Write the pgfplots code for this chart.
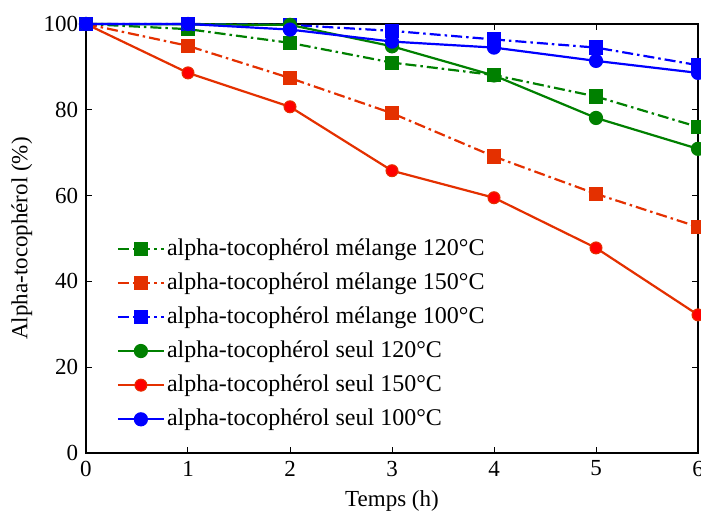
\documentclass[border=0pt]{standalone}
\usepackage{fontspec}
\setmainfont{Liberation Serif}
\usepackage{pgfplots}
\pgfplotsset{compat=1.18}
\definecolor{cgreen}{RGB}{0,128,0}
\definecolor{cred}{RGB}{228,48,0}
\definecolor{cblue}{RGB}{0,0,255}
\begin{document}
\fontsize{23}{27}\selectfont
\begin{tikzpicture}
\begin{axis}[
  scale only axis, width=612pt, height=429pt,
  xmin=0, xmax=6, ymin=0, ymax=100,
  xtick={0,1,2,3,4,5,6}, ytick={0,20,40,60,80,100},
  tick align=inside, major tick length=6pt,
  axis line style={line width=1.2pt}, tick style={line width=1pt, black},
  /pgf/number format/assume math mode=true,
  ticklabel style={font=\fontsize{23}{27}\selectfont},
  label style={font=\fontsize{23}{27}\selectfont},
  xlabel={Temps (h)}, ylabel={Alpha-tocophérol (\%)},
  xlabel style={at={(axis description cs:0.5,-0.112)}, anchor=center},
  ylabel style={at={(axis description cs:-0.105,0.5)}, anchor=center},
  legend style={at={(0.05,0.505)}, anchor=north west, draw=none, fill=none,
    font=\fontsize{24}{28}\selectfont, row sep=10pt, inner sep=0pt,
    /tikz/every even column/.append style={column sep=4pt}},
  legend cell align=left,
  legend image code/.code={\draw[mark repeat=2,mark phase=2] plot coordinates {(0pt,0pt) (23pt,0pt) (46pt,0pt)};},
  every axis plot/.append style={line width=2.2pt},
  dashdot/.style={dash pattern=on 11pt off 4pt on 2.5pt off 4pt},
  clip=false,
]
\addplot[cgreen, dashdot, mark=square*, mark size=6pt, mark options={solid, fill=cgreen}]
  coordinates {(0,100) (1,98.8) (2,95.6) (3,91.0) (4,88.1) (5,83.1) (6,76.0)};
\addlegendentry{alpha-tocophérol mélange 120°C}
\addplot[cred, dashdot, mark=square*, mark size=6pt, mark options={solid, fill=cred}]
  coordinates {(0,100) (1,94.9) (2,87.4) (3,79.2) (4,69.1) (5,60.4) (6,52.7)};
\addlegendentry{alpha-tocophérol mélange 150°C}
\addplot[cblue, dashdot, mark=square*, mark size=6pt, mark options={solid, fill=cblue}]
  coordinates {(0,100) (1,100) (2,99.8) (3,98.4) (4,96.4) (5,94.5) (6,90.4)};
\addlegendentry{alpha-tocophérol mélange 100°C}
\addplot[cgreen, mark=*, mark size=6pt, mark options={solid, fill=cgreen}]
  coordinates {(0,100) (1,99.9) (2,99.8) (3,94.8) (4,88.0) (5,78.1) (6,70.9)};
\addlegendentry{alpha-tocophérol seul 120°C}
\addplot[cred, mark=*, mark size=6pt, mark options={solid, fill=red, draw=cred, line width=1pt}]
  coordinates {(0,100) (1,88.6) (2,80.7) (3,65.8) (4,59.5) (5,47.8) (6,32.2)};
\addlegendentry{alpha-tocophérol seul 150°C}
\addplot[cblue, mark=*, mark size=6pt, mark options={solid, fill=cblue}]
  coordinates {(0,100) (1,100) (2,98.7) (3,95.9) (4,94.5) (5,91.4) (6,88.6)};
\addlegendentry{alpha-tocophérol seul 100°C}
\end{axis}
\pgfresetboundingbox
\useasboundingbox (-86pt,-60pt) rectangle (615pt,453pt);
\end{tikzpicture}
\end{document}
